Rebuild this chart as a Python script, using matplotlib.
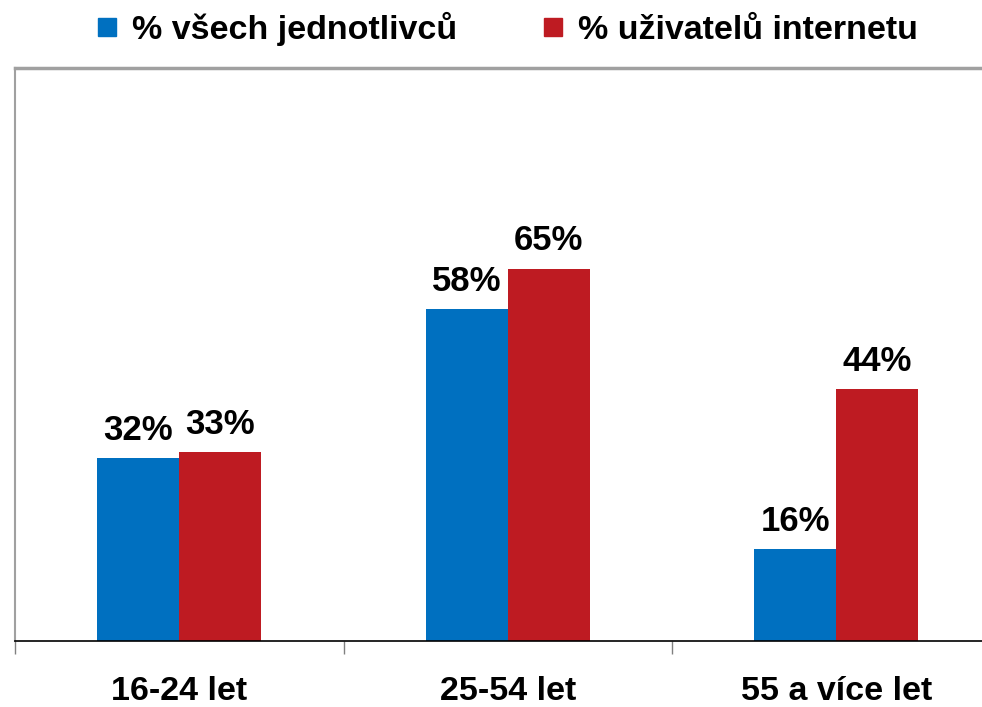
import matplotlib.pyplot as plt
import numpy as np
from matplotlib.lines import Line2D

plt.rcParams['font.family'] = ['Liberation Sans', 'DejaVu Sans']

# data
categories = ['16-24 let', '25-54 let', '55 a více let']
all_people = [32, 58, 16]
internet_users = [33, 65, 44]
series_names = ['% všech jednotlivců', '% uživatelů internetu']

blue = '#0070C0'
red = '#BE1B22'

fig = plt.figure(figsize=(9.82, 7.07), dpi=100)
ax = fig.add_axes([15 / 982, 66 / 707, 985.5 / 982, 573 / 707])

x = np.arange(len(categories))
w = 0.25
b1 = ax.bar(x - w / 2, all_people, w, color=blue)
b2 = ax.bar(x + w / 2, internet_users, w, color=red)

for bars, vals in [(b1, all_people), (b2, internet_users)]:
    for rect, v in zip(bars, vals):
        ax.annotate(f'{v}%', (rect.get_x() + rect.get_width() / 2, v),
                    xytext=(0, 8), textcoords='offset points',
                    ha='center', va='bottom', fontsize=25, fontweight='bold')

ax.set_xlim(-0.5, len(categories) - 0.5)
ax.set_ylim(0, 100)
ax.set_yticks([])

# category labels between boundary ticks
ax.set_xticks(np.arange(len(categories) + 1) - 0.5)
ax.set_xticklabels([])
ax.tick_params(axis='x', direction='out', length=9, width=1, color='#808080')
ax.set_xticks(x, minor=True)
ax.set_xticklabels(categories, minor=True, fontsize=24.5, fontweight='bold')
ax.tick_params(axis='x', which='minor', length=0, pad=25)

for s in ['left', 'right']:
    ax.spines[s].set_color('#A0A0A0')
    ax.spines[s].set_linewidth(1.5)
ax.spines['top'].set_color('#A0A0A0')
ax.spines['top'].set_linewidth(2.5)
ax.spines['bottom'].set_color('black')
ax.spines['bottom'].set_linewidth(1.2)

handles = [Line2D([], [], marker='s', linestyle='none', markersize=13, color=c)
           for c in (blue, red)]
fig.legend(handles, series_names, loc='upper center', bbox_to_anchor=(0.513, 1.027),
           ncol=2, frameon=False, prop={'size': 24.5, 'weight': 'bold'},
           handletextpad=0.25, columnspacing=2.3, handlelength=1.0)

fig.savefig('out.png', dpi=100)
